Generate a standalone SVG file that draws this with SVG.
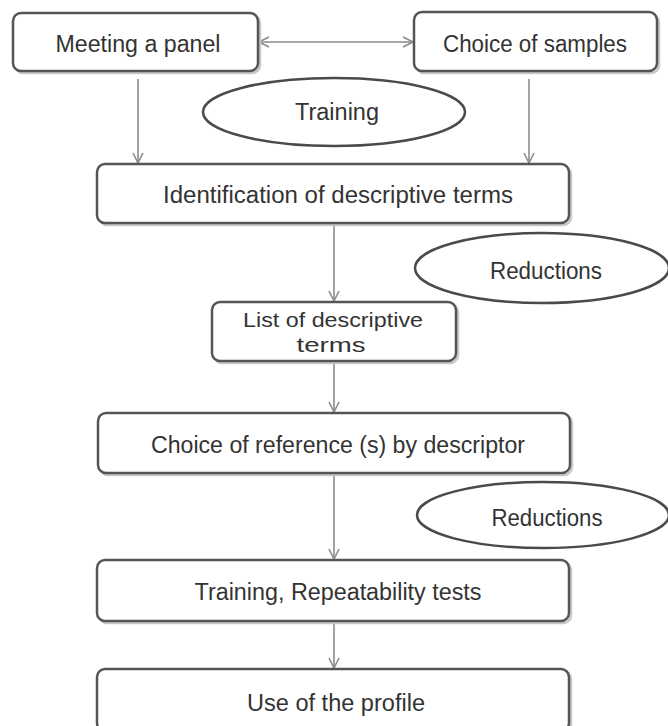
<svg xmlns="http://www.w3.org/2000/svg" width="668" height="726" viewBox="0 0 668 726">
<style>
.box{fill:#fff;stroke:#555;stroke-width:2.5}
.shadow{fill:none;stroke:#c8c8c8;stroke-width:2.5}
.ell{fill:#fff;stroke:#4a4a4a;stroke-width:2.5}
.lbl{font-family:"Liberation Sans",Arial,sans-serif;font-size:23px;fill:#333;text-anchor:middle;dominant-baseline:central}
.sm{font-size:21px}
.conn{stroke:#8c8c8c;stroke-width:1.6;fill:none}
</style>
<defs>
<marker id="arr" viewBox="0 0 12 12" refX="11" refY="6" markerWidth="12" markerHeight="12" markerUnits="userSpaceOnUse" orient="auto-start-reverse">
<path d="M1,1 L11,6 L1,11" fill="none" stroke="#8c8c8c" stroke-width="1.6"/>
</marker>
</defs>
<rect width="668" height="726" fill="#fff"/>
<g id="connectors">
<line class="conn" x1="259" y1="42" x2="413" y2="42" marker-start="url(#arr)" marker-end="url(#arr)"/>
<line class="conn" x1="138" y1="79" x2="138" y2="163" marker-end="url(#arr)"/>
<line class="conn" x1="529" y1="79" x2="529" y2="163" marker-end="url(#arr)"/>
<line class="conn" x1="334" y1="223" x2="334" y2="301" marker-end="url(#arr)"/>
<line class="conn" x1="334" y1="361" x2="334" y2="412" marker-end="url(#arr)"/>
<line class="conn" x1="334" y1="473" x2="334" y2="559" marker-end="url(#arr)"/>
<line class="conn" x1="334" y1="621" x2="334" y2="668" marker-end="url(#arr)"/>
</g>
<g id="n_meeting">
<rect class="shadow" x="15" y="15" width="245" height="58" rx="8"/>
<rect class="box" x="13" y="13" width="245" height="58" rx="8"/>
<text class="lbl" x="138" y="44" textLength="165" lengthAdjust="spacingAndGlyphs">Meeting a panel</text>
</g>
<g id="n_samples">
<rect class="shadow" x="416" y="14" width="243" height="59" rx="8"/>
<rect class="box" x="414" y="12" width="243" height="59" rx="8"/>
<text class="lbl" x="535" y="44" textLength="184" lengthAdjust="spacingAndGlyphs">Choice of samples</text>
</g>
<g id="n_training_ell">
<ellipse class="ell" cx="334" cy="112" rx="131" ry="34"/>
<text class="lbl" x="337" y="112" textLength="84" lengthAdjust="spacingAndGlyphs">Training</text>
</g>
<g id="n_identification">
<rect class="shadow" x="99" y="166" width="472" height="59" rx="8"/>
<rect class="box" x="97" y="164" width="472" height="59" rx="8"/>
<text class="lbl" x="338" y="195" textLength="350" lengthAdjust="spacingAndGlyphs">Identification of descriptive terms</text>
</g>
<g id="n_reductions1">
<ellipse class="ell" cx="542" cy="268" rx="127" ry="35"/>
<text class="lbl" x="546" y="271" textLength="112" lengthAdjust="spacingAndGlyphs">Reductions</text>
</g>
<g id="n_list">
<rect class="shadow" x="214" y="304" width="244" height="59" rx="8"/>
<rect class="box" x="212" y="302" width="244" height="59" rx="8"/>
<text class="lbl sm" x="333" y="319" textLength="180" lengthAdjust="spacingAndGlyphs">List of descriptive</text>
<text class="lbl sm" x="331" y="344" textLength="69" lengthAdjust="spacingAndGlyphs">terms</text>
</g>
<g id="n_choice_ref">
<rect class="shadow" x="100" y="415" width="472" height="60" rx="8"/>
<rect class="box" x="98" y="413" width="472" height="60" rx="8"/>
<text class="lbl" x="338" y="445" textLength="374" lengthAdjust="spacingAndGlyphs">Choice of reference (s) by descriptor</text>
</g>
<g id="n_reductions2">
<ellipse class="ell" cx="543" cy="515" rx="126" ry="33"/>
<text class="lbl" x="547" y="518" textLength="111" lengthAdjust="spacingAndGlyphs">Reductions</text>
</g>
<g id="n_repeat">
<rect class="shadow" x="99" y="562" width="472" height="61" rx="8"/>
<rect class="box" x="97" y="560" width="472" height="61" rx="8"/>
<text class="lbl" x="338" y="592" textLength="287" lengthAdjust="spacingAndGlyphs">Training, Repeatability tests</text>
</g>
<g id="n_profile">
<rect class="shadow" x="99" y="671" width="472" height="62" rx="8"/>
<rect class="box" x="97" y="669" width="472" height="62" rx="8"/>
<text class="lbl" x="336" y="703" textLength="178" lengthAdjust="spacingAndGlyphs">Use of the profile</text>
</g>
</svg>
